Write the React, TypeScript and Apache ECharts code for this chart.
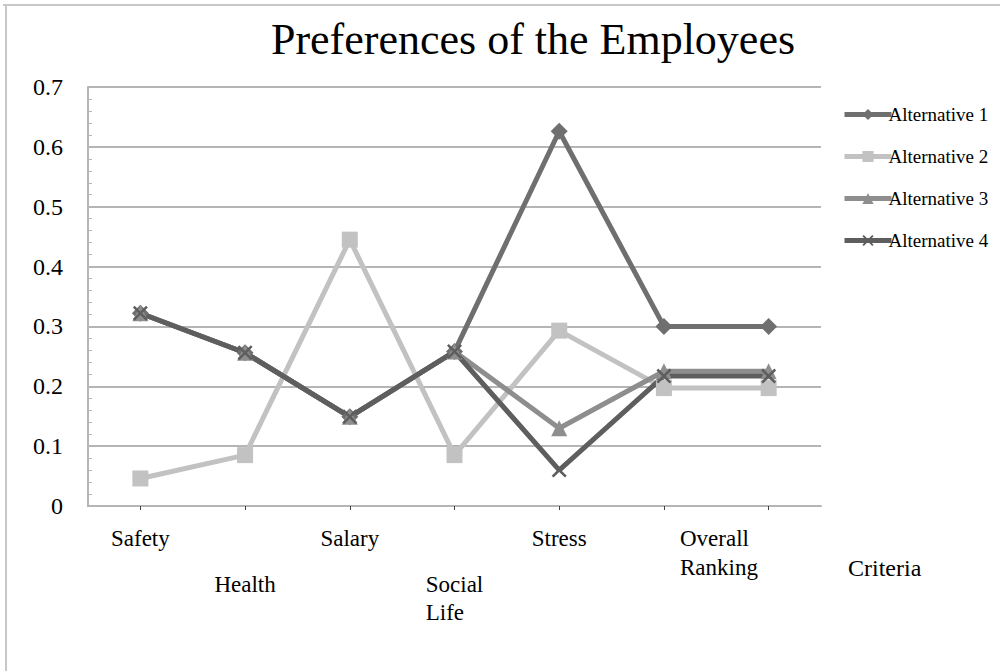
import React, { useEffect, useRef } from "react";
import * as echarts from "echarts";

// Criteria along the x axis (the last column carries no label)
const categories = ["Safety", "Health", "Salary", "Social\nLife", "Stress", "Overall\nRanking", ""];

// Preference weights per alternative
const alternative1 = [0.322, 0.256, 0.149, 0.258, 0.626, 0.3, 0.3];
const alternative2 = [0.046, 0.085, 0.445, 0.085, 0.293, 0.197, 0.197];
const alternative3 = [0.322, 0.256, 0.149, 0.258, 0.13, 0.225, 0.225];
const alternative4 = [0.322, 0.256, 0.149, 0.258, 0.06, 0.217, 0.217];

const seriesNames = ["Alternative 1", "Alternative 2", "Alternative 3", "Alternative 4"];
const yTicks = ["0", "0.1", "0.2", "0.3", "0.4", "0.5", "0.6", "0.7"];

const FONT = "Liberation Serif";
const GRID_GRAY = "#b5b5b5";
const CROSS = "path://M0,1.2L1.2,0L5,3.8L8.8,0L10,1.2L6.2,5L10,8.8L8.8,10L5,6.2L1.2,10L0,8.8L3.8,5Z";

export default function App() {
  const ref = useRef<HTMLDivElement>(null);

  useEffect(() => {
    if (!ref.current) return;
    const chart = echarts.init(ref.current, null, { renderer: "svg" });

    const makeSeries = (name: string, data: number[], color: string, symbol: string, size: number) => ({
      name,
      type: "line",
      data,
      symbol,
      symbolSize: size,
      lineStyle: { color, width: 5 },
      itemStyle: { color },
      emphasis: { disabled: true },
    });

    chart.setOption({
      animation: false,
      backgroundColor: "#ffffff",
      title: {
        text: "Preferences of the Employees",
        left: 528,
        top: 12,
        textAlign: "center",
        textStyle: { fontFamily: FONT, fontSize: 44, fontWeight: "normal", color: "#000" },
      },
      legend: {
        orient: "vertical",
        left: 837,
        top: 100,
        itemWidth: 47,
        itemHeight: 14,
        itemGap: 23,
        data: seriesNames,
        lineStyle: { width: 5 },
        textStyle: { fontFamily: FONT, fontSize: 19, color: "#000", padding: [0, 0, 0, -8] },
      },
      grid: { left: 88, right: 179, top: 87, bottom: 165 },
      xAxis: {
        type: "category",
        data: categories,
        boundaryGap: true,
        axisLine: { lineStyle: { color: GRID_GRAY, width: 2 } },
        axisTick: { show: true, alignWithLabel: true, length: 4, lineStyle: { color: "#444", width: 1 } },
        axisLabel: {
          interval: 0,
          margin: 18,
          hideOverlap: false,
          formatter: (value: string, index: number) => {
            if (!value) return "";
            const shifted = index === 5;
            const body = value
              .split("\n")
              .map((l) => `{${shifted ? "o" : "t"}|${l}}`)
              .join("\n");
            return index % 2 === 1 && !shifted ? `{g| }\n${body}` : body;
          },
          rich: {
            t: { fontFamily: FONT, fontSize: 23, color: "#000", lineHeight: 28, align: "left" },
            o: { fontFamily: FONT, fontSize: 23, color: "#000", lineHeight: 29, align: "left", padding: [0, 0, 0, 110] },
            g: { fontSize: 4, lineHeight: 46 },
          },
        },
      },
      yAxis: {
        type: "value",
        min: 0,
        max: 0.7,
        interval: 0.1,
        axisLine: { show: true, lineStyle: { color: GRID_GRAY, width: 2 } },
        axisTick: { show: true, inside: true, length: 5, lineStyle: { color: GRID_GRAY, width: 1 } },
        minorTick: { show: true, splitNumber: 5, length: 4, lineStyle: { color: GRID_GRAY, width: 1 } },
        splitLine: { show: true, lineStyle: { color: GRID_GRAY, width: 2 } },
        axisLabel: {
          margin: 25,
          fontFamily: FONT,
          fontSize: 24,
          color: "#000",
          formatter: (v: number) => yTicks[Math.round(v * 10)] ?? "",
        },
      },
      series: [
        makeSeries(seriesNames[0], alternative1, "#6f6f6f", "diamond", 17),
        makeSeries(seriesNames[1], alternative2, "#c2c2c2", "rect", 16),
        makeSeries(seriesNames[2], alternative3, "#8e8e8e", "triangle", 16),
        makeSeries(seriesNames[3], alternative4, "#5e5e5e", CROSS, 15),
      ],
      graphic: [
        {
          type: "text",
          left: 848,
          top: 556,
          style: { text: "Criteria", fontFamily: FONT, fontSize: 24, fill: "#000" },
        },
        { type: "line", shape: { x1: 3, y1: 5, x2: 1000, y2: 5 }, style: { stroke: "#c8c8c8", lineWidth: 2 } },
        { type: "line", shape: { x1: 6, y1: 4, x2: 6, y2: 671 }, style: { stroke: "#c8c8c8", lineWidth: 2 } },
      ],
    });

    return () => chart.dispose();
  }, []);

  return (
    <div
      ref={ref}
      style={{ position: "fixed", left: 0, top: 0, width: 1000, height: 671, background: "#fff" }}
    />
  );
}
